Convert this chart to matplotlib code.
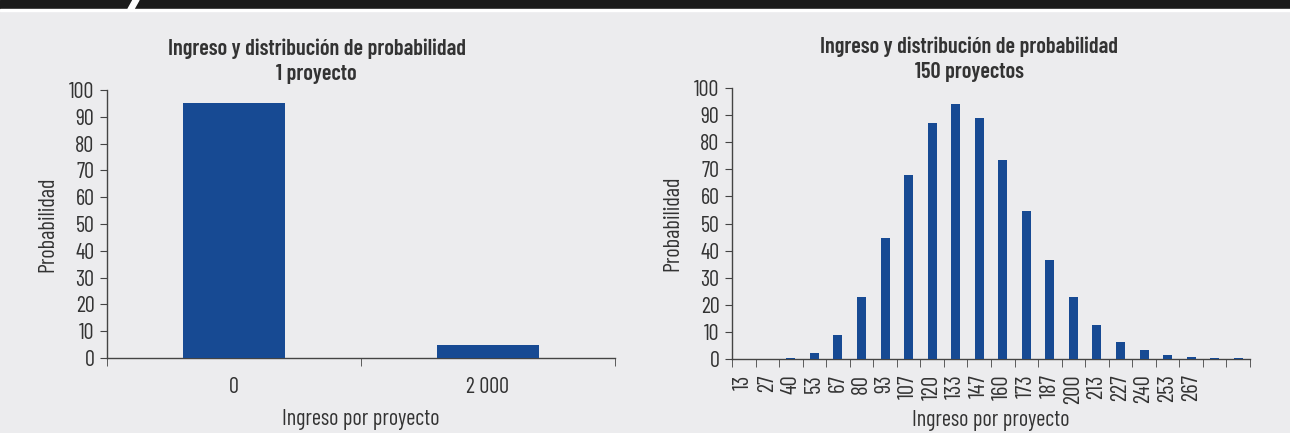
import numpy as np
import matplotlib.pyplot as plt
from matplotlib.patches import Rectangle, Polygon
from matplotlib import font_manager

# condensed font, first one that is installed
names = {f.name for f in font_manager.fontManager.ttflist}
fam = 'Roboto'
for cand in ['Barlow Condensed', 'Roboto Condensed', 'Barlow Semi Condensed',
             'Liberation Sans Narrow']:
    if cand in names:
        fam = cand
        break
plt.rcParams['font.family'] = [fam, 'DejaVu Sans']

# data
cats_1 = ['0', '2 000']
prob_1 = [95, 5]

cats_150 = ['13', '27', '40', '53', '67', '80', '93', '107', '120', '133', '147',
            '160', '173', '187', '200', '213', '227', '240', '253', '267', '', '']
prob_150 = [0, 0, 0.2, 2.2, 9, 23, 44.6, 68, 87, 94, 89,
            73.6, 54.6, 36.4, 22.7, 12.6, 6.3, 3.3, 1.5, 0.7, 0.3, 0.3]

bar_color = '#174a93'
bg = '#ececee'
txt = '#333333'

fig = plt.figure(figsize=(12.9, 4.33), dpi=100)
fig.patch.set_facecolor(bg)
# top dark band with notch
fig.add_artist(Rectangle((0, 1 - 9 / 433), 1, 9 / 433, transform=fig.transFigure,
                         color='#1c1c1c', zorder=5))
fig.add_artist(Rectangle((0, 1 - 11 / 433), 1, 2 / 433, transform=fig.transFigure,
                         color='white', zorder=5))
fig.add_artist(Polygon([(128 / 1290, 1 - 9 / 433), (134 / 1290, 1 - 9 / 433),
                        (139 / 1290, 1.0), (133 / 1290, 1.0)],
                       transform=fig.transFigure, color='white', zorder=6))


def style(ax):
    ax.set_facecolor(bg)
    for s in ['top', 'right']:
        ax.spines[s].set_visible(False)
    for s in ['left', 'bottom']:
        ax.spines[s].set_color('#444444')
        ax.spines[s].set_linewidth(1.0)
    ax.set_ylim(0, 100)
    ax.set_yticks(np.arange(0, 101, 10))
    ax.tick_params(axis='y', labelsize=16, colors='#444444', labelcolor=txt,
                   length=5, direction='out', pad=4)
    ax.set_ylabel('Probabilidad', fontsize=16, color=txt, labelpad=8)


# left chart
ax1 = fig.add_axes([107 / 1290, 1 - 358 / 433, 508 / 1290, 268 / 433])
style(ax1)
x1 = np.arange(len(cats_1))
ax1.bar(x1, prob_1, width=0.4, color=bar_color, zorder=3)
ax1.set_xlim(-0.5, len(cats_1) - 0.5)
ax1.set_xticks(x1)
ax1.set_xticklabels(cats_1)
ax1.set_xticks(np.arange(-0.5, len(cats_1)), minor=True)
ax1.tick_params(axis='x', which='major', length=0, labelsize=16, labelcolor=txt, pad=14)
ax1.tick_params(axis='x', which='minor', length=6, color='#444444')
ax1.set_xlabel('Ingreso por proyecto', fontsize=16, color=txt)
ax1.xaxis.set_label_coords(0.5, -0.19)
ax1.set_title('Ingreso y distribución de probabilidad\n1 proyecto', x=0.413,
              fontsize=16, fontweight='semibold', color=txt, pad=7, linespacing=1.3)

# right chart
ax2 = fig.add_axes([732 / 1290, 1 - 359 / 433, 518 / 1290, 271 / 433])
style(ax2)
x2 = np.arange(len(cats_150))
ax2.bar(x2, prob_150, width=0.38, color=bar_color, zorder=3)
ax2.set_xlim(-0.5, len(cats_150) - 0.5)
ax2.set_xticks(x2)
ax2.set_xticklabels(cats_150, rotation=90)
ax2.set_xticks(np.arange(-0.5, len(cats_150)), minor=True)
ax2.tick_params(axis='x', which='major', length=0, labelsize=16.5, labelcolor=txt, pad=11)
ax2.tick_params(axis='x', which='minor', length=6, color='#444444')
ax2.set_xlabel('Ingreso por proyecto', fontsize=16, color=txt)
ax2.xaxis.set_label_coords(0.5, -0.19)
ax2.set_title('Ingreso y distribución de probabilidad\n150 proyectos', x=0.458,
              fontsize=16, fontweight='semibold', color=txt, pad=7, linespacing=1.3)

fig.savefig('out.png', dpi=100, facecolor=bg)
